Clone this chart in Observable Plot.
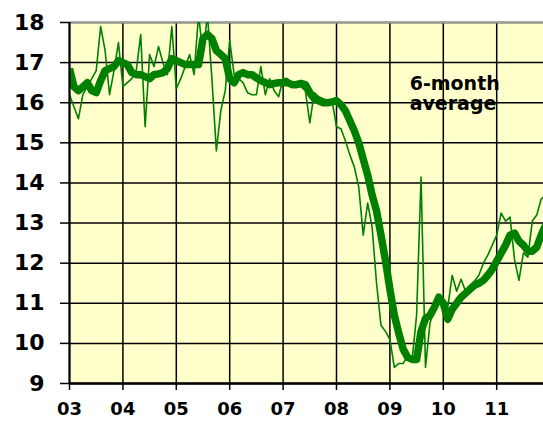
<!DOCTYPE html>
<html><head><meta charset="utf-8">
<script src="https://cdn.jsdelivr.net/npm/d3@7"></script>
<script src="https://cdn.jsdelivr.net/npm/@observablehq/plot@0.6"></script>
<style>body{margin:0;background:#fff;} #chart svg{display:block;}</style>
</head><body><div id="chart"></div>
<script>
const startYear = 2003;
const monthly = [
  16.2,15.9,15.6,16.2,16.4,16.6,16.8,17.9,17.3,16.2,16.8,17.5,
  16.4,16.5,16.6,16.8,17.7,15.4,17.2,16.9,17.4,17.0,16.7,17.9,
  16.35,16.6,16.9,17.2,16.7,18.2,17.2,18.2,16.6,14.8,15.8,16.3,
  17.55,16.7,16.6,16.5,16.25,16.2,16.2,16.9,16.2,16.6,16.3,16.15,
  16.6,16.6,16.4,16.4,16.4,16.3,15.5,16.25,16.15,16.1,16.05,16.05,
  15.4,15.35,15.05,14.7,14.4,13.9,12.7,13.5,12.9,11.5,10.45,10.3,
  10.1,9.4,9.5,9.5,9.7,9.6,10.7,14.15,9.4,10.5,10.85,11.1,
  11.05,10.9,11.7,11.3,11.6,11.3,11.45,11.55,11.7,12.0,12.2,12.45,
  12.7,13.25,13.05,13.15,12.1,11.57,12.25,12.15,13.05,13.2,13.6,13.7
];
const average = [
  16.85,16.4,16.3,16.4,16.5,16.3,16.25,16.55,16.8,16.85,16.9,17.05,
  17.0,16.95,16.75,16.7,16.7,16.65,16.6,16.7,16.72,16.75,16.85,17.1,
  17.05,17.0,16.95,16.95,16.95,16.95,17.6,17.7,17.6,17.3,17.2,17.1,
  16.6,16.5,16.7,16.75,16.7,16.7,16.62,16.55,16.5,16.45,16.48,16.5,
  16.5,16.5,16.45,16.45,16.48,16.45,16.25,16.1,16.05,16.0,16.0,16.02,
  16.05,15.95,15.8,15.55,15.3,15.0,14.6,14.2,13.7,13.3,12.7,12.07,
  11.35,10.7,10.25,9.85,9.65,9.6,9.6,10.3,10.62,10.7,10.9,11.15,
  11.0,10.6,10.85,11.0,11.15,11.25,11.35,11.45,11.5,11.57,11.7,11.85,
  12.05,12.25,12.45,12.7,12.75,12.55,12.45,12.3,12.3,12.4,12.7,12.95
];
const yearTicks = [2003,2004,2005,2006,2007,2008,2009,2010,2011];
const yearLabels = ["03","04","05","06","07","08","09","10","11"];
const valueTicks = [9,10,11,12,13,14,15,16,17,18];
const annotation = ["6-month\naverage"];
const annotationAt = {t: 2009.37, v: 16.68};

const rows = monthly.map((v, i) => ({t: startYear + i / 12, v, a: average[i]}));
const green = "#008000";
const font = "'DejaVu Sans', 'Liberation Sans', Arial, sans-serif";

const chart = Plot.plot({
  width: 543,
  height: 421,
  marginLeft: 69,
  marginRight: 0,
  marginTop: 22,
  marginBottom: 38,
  style: {fontFamily: font, fontWeight: "bold", color: "#000", background: "#fff"},
  x: {domain: [2003, 2003 + 474 / 53.4]},
  y: {domain: [9, 18]},
  marks: [
    Plot.frame({fill: "#FFFFCC", stroke: null}),
    Plot.gridX(yearTicks, {stroke: "#000", strokeOpacity: 1, strokeWidth: 1.5}),
    Plot.gridY(valueTicks, {stroke: "#000", strokeOpacity: 1, strokeWidth: 1.5}),
    Plot.ruleY([18], {stroke: "#999", strokeWidth: 2}),
    Plot.lineY(rows, {x: "t", y: "v", stroke: green, strokeWidth: 1.6, clip: true}),
    Plot.lineY(rows, {x: "t", y: "a", stroke: green, strokeWidth: 7.5, strokeLinejoin: "round", strokeLinecap: "butt", clip: true}),
    Plot.text(annotation, {x: () => annotationAt.t, y: () => annotationAt.v, textAnchor: "start", lineAnchor: "top", lineHeight: 1.05, fontSize: 19, fontWeight: "bold", fill: "#000"}),
    Plot.ruleX([2003], {stroke: "#000", strokeWidth: 2}),
    Plot.ruleY([9], {stroke: "#000", strokeWidth: 2.5}),
    Plot.axisY(valueTicks, {tickSize: 9, tickPadding: 16, fontSize: 22, fontWeight: "bold", label: null, stroke: "#000", strokeWidth: 1.5}),
    Plot.axisX(yearTicks, {tickSize: 7, tickPadding: 12, fontSize: 18, fontWeight: "bold", label: null, tickFormat: (d) => yearLabels[yearTicks.indexOf(d)], stroke: "#000", strokeWidth: 1.5})
  ]
});
document.getElementById("chart").appendChild(chart);
</script>
</body></html>
